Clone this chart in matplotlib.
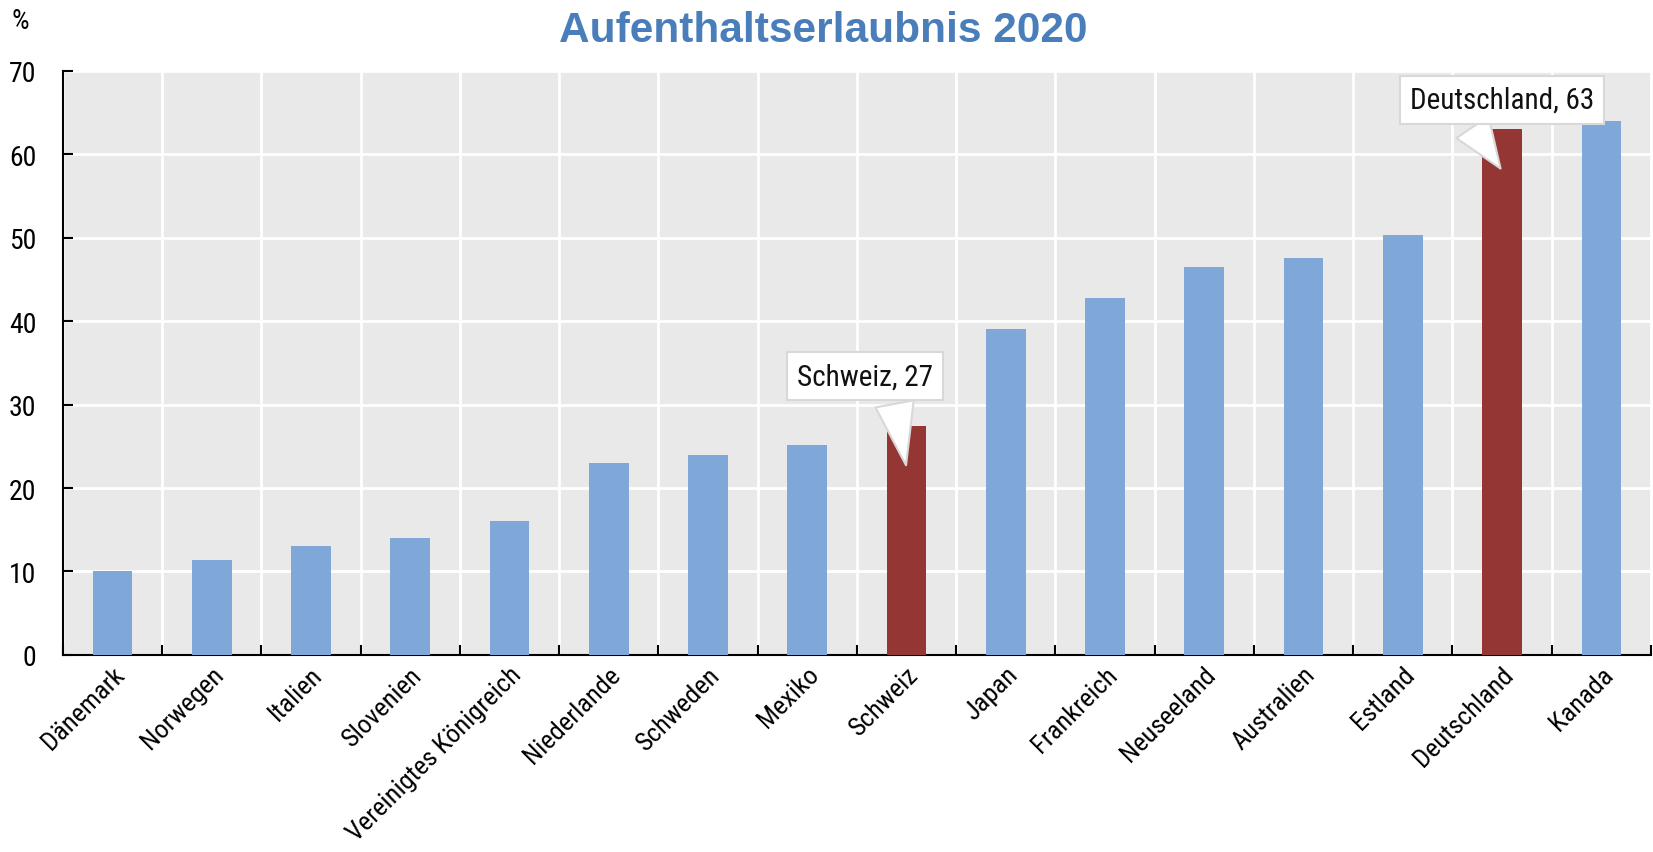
import matplotlib.pyplot as plt
import matplotlib.transforms as mtransforms
from matplotlib import font_manager
import numpy as np


def erste_schrift(namen):
    for n in namen:
        try:
            font_manager.findfont(font_manager.FontProperties(family=n), fallback_to_default=False)
            return n
        except ValueError:
            pass
    return None


schmal = erste_schrift(['Liberation Sans Narrow', 'Arial Narrow', 'DejaVu Sans Condensed',
                        'Roboto Condensed', 'Open Sans Condensed'])
if schmal:
    plt.rcParams['font.family'] = [schmal, 'Liberation Sans', 'DejaVu Sans']
    gr = 20
else:
    plt.rcParams['font.family'] = ['Liberation Sans', 'DejaVu Sans']
    gr = 18

laender = ['Dänemark', 'Norwegen', 'Italien', 'Slovenien', 'Vereinigtes Königreich',
           'Niederlande', 'Schweden', 'Mexiko', 'Schweiz', 'Japan', 'Frankreich',
           'Neuseeland', 'Australien', 'Estland', 'Deutschland', 'Kanada']
werte = [10.0, 11.4, 13.0, 14.0, 16.0, 23.0, 24.0, 25.1, 27.4, 39.0, 42.8,
         46.5, 47.6, 50.3, 63.0, 64.0]
hervorgehoben = ['Schweiz', 'Deutschland']
etiketten = {'Schweiz': 'Schweiz, 27', 'Deutschland': 'Deutschland, 63'}

blau = '#7FA8D9'
rot = '#943634'

fig = plt.figure(figsize=(16.53, 8.53), dpi=100)
ax = fig.add_axes([0.038, 0.231, 0.9608, 0.6849])
ax.set_facecolor('#E9E9E9')

x = np.arange(len(laender))
farben = [rot if l in hervorgehoben else blau for l in laender]
ax.bar(x, werte, width=0.4, color=farben, zorder=3)

ax.set_xlim(-0.5, len(laender) - 0.5)
ax.set_ylim(0, 70)
ax.set_yticks(np.arange(0, 71, 10))
ax.set_xticks(x)
ax.set_xticklabels(laender, rotation=45, ha='right', va='center', rotation_mode='anchor')
ax.set_xticks(np.arange(-0.5, len(laender), 1), minor=True)

ax.grid(axis='y', color='white', linewidth=2, zorder=1)
ax.grid(axis='x', which='minor', color='white', linewidth=2, zorder=1)
ax.set_axisbelow(True)

ax.tick_params(axis='x', which='major', length=0, labelsize=gr - 1, pad=11)
ax.tick_params(axis='x', which='minor', length=7, width=1.5, direction='in')
ax.tick_params(axis='y', length=7, width=1.5, direction='in', labelsize=gr, pad=19)

# Beschriftungen etwas nach rechts schieben (nach tick_params, sonst zurueckgesetzt)
verschiebung = mtransforms.ScaledTranslation(8 / 100, 0, fig.dpi_scale_trans)
for lab in ax.get_xticklabels():
    lab.set_transform(lab.get_transform() + verschiebung)

for s in ['top', 'right']:
    ax.spines[s].set_visible(False)
for s in ['left', 'bottom']:
    ax.spines[s].set_linewidth(1.5)

# Sprechblasen
versatz = {'Schweiz': (-0.42, 6.0, 0.7), 'Deutschland': (0.0, 3.5, 0.29)}
for name, text in etiketten.items():
    i = laender.index(name)
    v = werte[i]
    dx, dy, rp = versatz[name]
    ax.annotate(text, xy=(i, v - 5), xytext=(i + dx, v + dy),
                ha='center', va='center', fontsize=gr + 1, color='#111111', zorder=5,
                bbox=dict(boxstyle='square,pad=0.35', fc='white', ec='#D8D8D8', lw=1.5),
                arrowprops=dict(arrowstyle='wedge,tail_width=1.4,shrink_factor=0.5',
                                fc='white', ec='#D8D8D8', lw=1.5, mutation_scale=20,
                                relpos=(rp, 0)))

fig.text(0.498, 0.951, 'Aufenthaltserlaubnis 2020', ha='center', va='baseline',
         fontsize=30.5, fontweight='bold', color='#4A7EBB',
         family=['Liberation Sans', 'DejaVu Sans'])
fig.text(0.007, 0.975, '%', ha='left', va='center', fontsize=gr)

fig.savefig('out.png', dpi=100)
